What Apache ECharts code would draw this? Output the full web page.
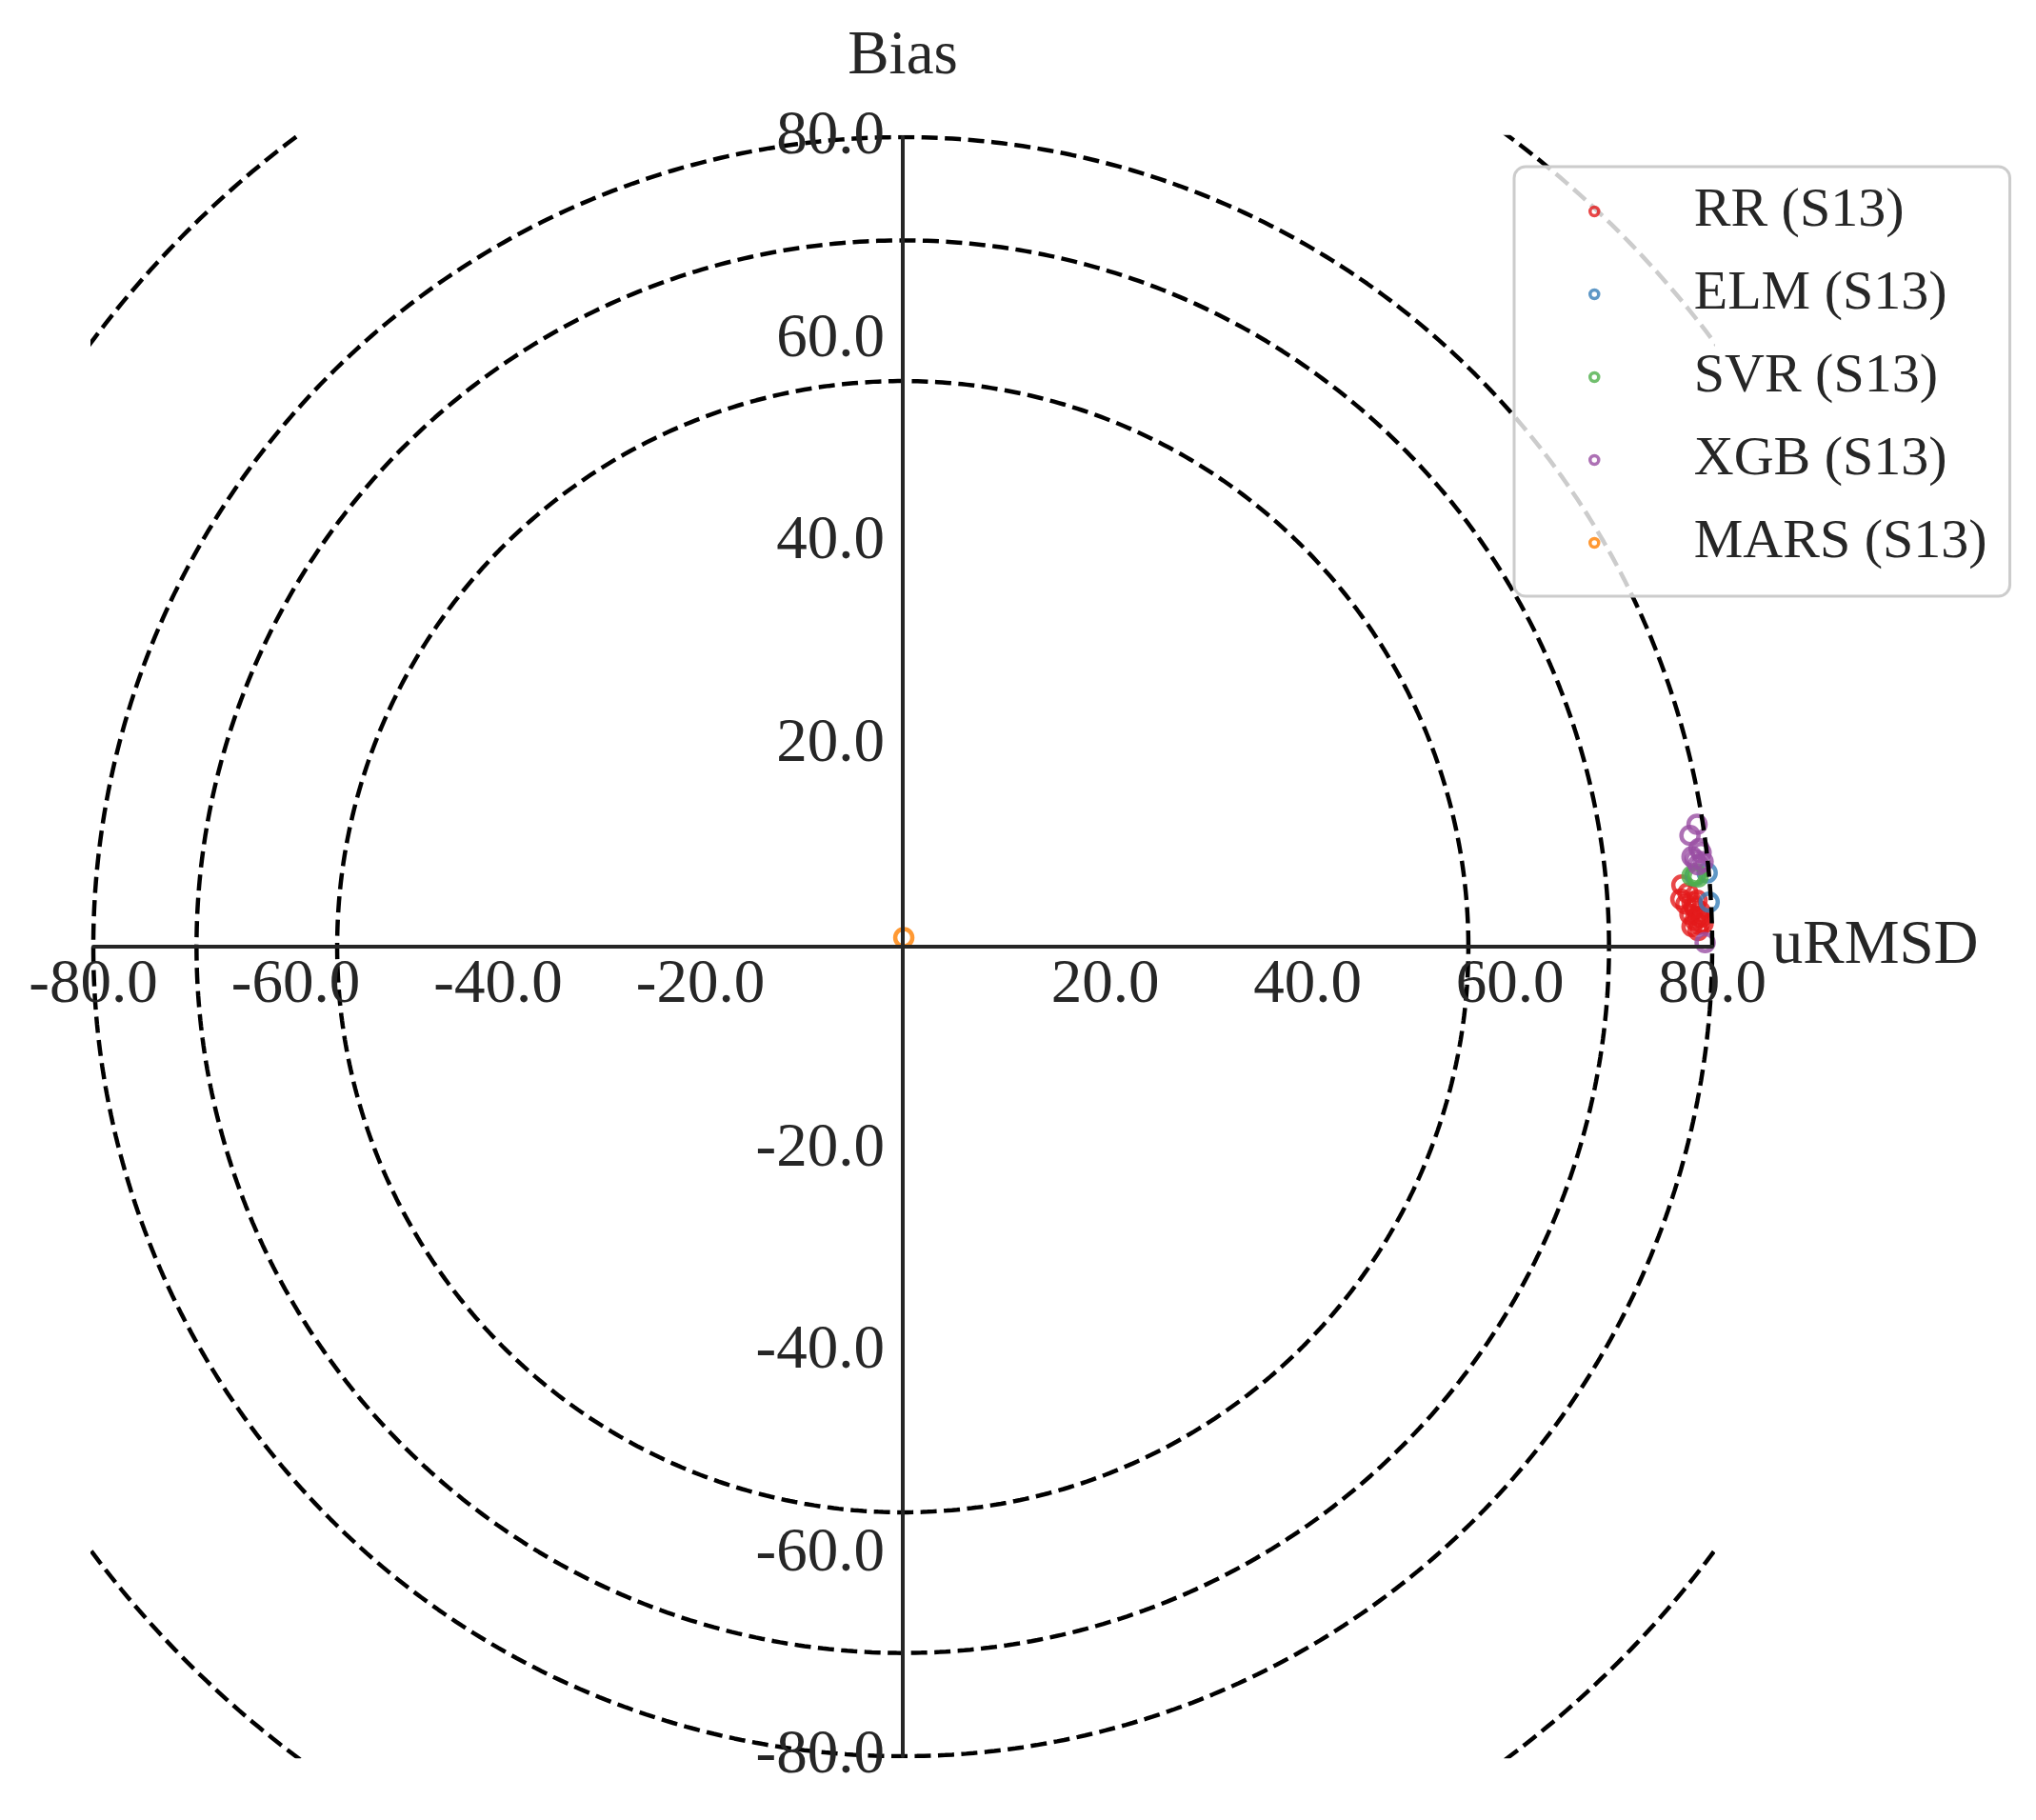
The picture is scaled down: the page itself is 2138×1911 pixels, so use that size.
<!DOCTYPE html>
<html>
<head>
<meta charset="utf-8">
<script src="https://cdn.jsdelivr.net/npm/echarts@6/dist/echarts.min.js"></script>
<style>
html,body{margin:0;padding:0;background:#fff;}
#chart{width:2138px;height:1911px;}
</style>
</head>
<body>
<div id="chart"></div>
<script>
// ---- data ----
const seriesNames = ['RR (S13)', 'ELM (S13)', 'SVR (S13)', 'XGB (S13)', 'MARS (S13)'];
const seriesColors = ['#e41a1c', '#377eb8', '#4daf4a', '#984ea3', '#ff7f00'];

// [uRMSD, Bias]
const rrData = [
  [77.0, 6.1], [76.9, 4.7], [77.6, 5.3], [78.5, 4.6], [78.2, 4.0], [78.8, 3.5],
  [77.8, 3.2], [78.9, 2.9], [78.3, 2.6], [79.1, 2.3], [78.0, 2.0], [78.6, 1.6],
  [78.3, 3.8], [78.6, 3.0], [78.0, 4.4], [78.7, 2.2], [77.4, 4.2]
];
const elmData = [[78.3, 7.0], [79.5, 7.3], [79.7, 4.4]];
const svrData = [[78.0, 7.0], [78.4, 7.2], [78.6, 6.9]];
const xgbData = [
  [78.5, 12.1], [77.8, 11.0], [78.0, 8.9], [78.9, 9.3], [78.7, 9.7],
  [79.1, 8.4], [78.6, 8.1], [78.3, 8.6], [79.3, 0.4]
];
const marsData = [[0.1, 0.9]];

// reference circles (radius in data units)
const circleRadii = [55.9, 69.8, 80, 100];

// axis ticks
const axisMin = -80, axisMax = 80, axisStep = 20;

// ---- build ----
const FONT = 'Liberation Serif';
const TXT = '#262626';
const GRID = { left: 98, top: 144, width: 1700, height: 1700 };

function circlePoints(r) {
  const pts = [];
  const n = 720;
  for (let i = 0; i <= n; i++) {
    const a = (i / n) * 2 * Math.PI;
    pts.push([r * Math.cos(a), r * Math.sin(a)]);
  }
  return pts;
}

const allData = [rrData, elmData, svrData, xgbData, marsData];

const scatterSeries = seriesNames.map((name, i) => ({
  name: name,
  type: 'scatter',
  z: 2,
  symbol: 'circle',
  symbolSize: 18,
  itemStyle: { color: 'rgba(255,255,255,0)', borderColor: seriesColors[i], borderWidth: 4.5 },
  data: allData[i],
  silent: true
}));

const circleSeries = circleRadii.map(r => ({
  type: 'line',
  z: 3,
  symbol: 'none',
  silent: true,
  clip: true,
  lineStyle: { color: '#000', width: 4.5, type: [17, 7.5] },
  data: circlePoints(r)
}));

const labelFmt = v => (Math.abs(v) < 1e-9 ? '' : v.toFixed(1));

const option = {
  backgroundColor: '#ffffff',
  animation: false,
  grid: Object.assign({ containLabel: false, outerBoundsMode: 'none' }, GRID),
  xAxis: {
    type: 'value', min: axisMin, max: axisMax, interval: axisStep,
    position: 'bottom',
    offset: -GRID.height / 2,
    z: 10,
    name: 'uRMSD', nameLocation: 'end', nameGap: 59,
    nameTextStyle: { fontFamily: FONT, fontSize: 65, color: TXT, verticalAlign: 'middle', align: 'left' },
    axisLine: { onZero: false, lineStyle: { color: TXT, width: 4 } },
    axisTick: { show: false },
    splitLine: { show: false },
    axisLabel: { formatter: labelFmt, fontFamily: FONT, fontSize: 65, color: TXT, margin: 8 }
  },
  yAxis: {
    type: 'value', min: axisMin, max: axisMax, interval: axisStep,
    position: 'left',
    offset: -GRID.width / 2,
    z: 10,
    name: 'Bias', nameLocation: 'end', nameGap: 52,
    nameTextStyle: { fontFamily: FONT, fontSize: 65, color: TXT, align: 'center' },
    axisLine: { onZero: false, lineStyle: { color: TXT, width: 4 } },
    axisTick: { show: false },
    splitLine: { show: false },
    axisLabel: { formatter: labelFmt, fontFamily: FONT, fontSize: 65, color: TXT, margin: 19 }
  },
  legend: {
    data: seriesNames,
    orient: 'vertical',
    left: 1590, top: 175,
    align: 'left',
    backgroundColor: 'rgba(255,255,255,0.8)',
    borderColor: '#cccccc', borderWidth: 3, borderRadius: 12,
    padding: [18, 24, 27, 78],
    itemGap: 29,
    itemWidth: 9, itemHeight: 9,
    itemStyle: { borderWidth: 3.5 },
    textStyle: { fontFamily: FONT, fontSize: 58, color: TXT, lineHeight: 58, padding: [0, 0, 0, 95] }
  },
  series: scatterSeries.concat(circleSeries)
};

const chart = echarts.init(document.getElementById('chart'), null, { renderer: 'canvas' });
chart.setOption(option);
</script>
</body>
</html>
